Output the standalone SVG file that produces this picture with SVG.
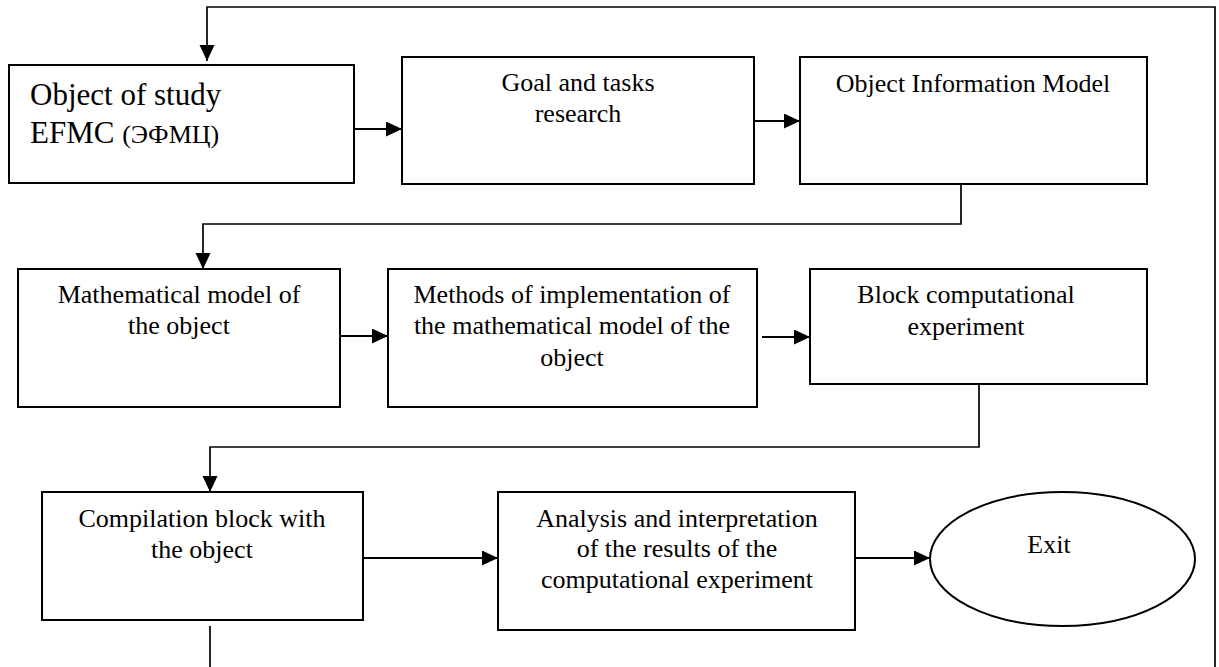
<svg xmlns="http://www.w3.org/2000/svg" width="1219" height="667" viewBox="0 0 1219 667">
<style>
.box{fill:#fff;stroke:#000;stroke-width:2}
.t{font-family:'Liberation Serif','Times New Roman',serif;font-size:26px;fill:#000;text-anchor:middle}
.t1{font-family:'Liberation Serif','Times New Roman',serif;font-size:31px;fill:#000}
.con{fill:none;stroke:#000;stroke-width:2.2}
.loop{fill:none;stroke:#000;stroke-width:1.7}
</style>
<defs>
<marker id="ah" markerUnits="userSpaceOnUse" markerWidth="17" markerHeight="16" refX="16" refY="7.5" orient="auto">
<path d="M0,0 L16,7.5 L0,15 z" fill="#000"/>
</marker>
</defs>
<rect width="1219" height="667" fill="#fff"/>
<g id="connectors">
<path class="loop" d="M1215,667 V7 H207 V61" marker-end="url(#ah)"/>
<path class="loop" d="M210,626 V667"/>
<path class="con" d="M354,129 H402" marker-end="url(#ah)"/>
<path class="con" d="M754,121 H800" marker-end="url(#ah)"/>
<path class="loop" d="M961,184 V224 H203 V269" marker-end="url(#ah)"/>
<path class="con" d="M338,336 H388" marker-end="url(#ah)"/>
<path class="con" d="M762,337 H810" marker-end="url(#ah)"/>
<path class="loop" d="M979,384 V447 H210 V492" marker-end="url(#ah)"/>
<path class="con" d="M363,558 H498" marker-end="url(#ah)"/>
<path class="con" d="M855,558 H930" marker-end="url(#ah)"/>
</g>
<g id="n1">
<rect class="box" x="9" y="65" width="345" height="118"/>
<text class="t1" x="30" y="105">Object of study</text>
<text class="t1" x="30" y="143">EFMC <tspan font-size="26">(ЭФМЦ)</tspan></text>
</g>
<g id="n2">
<rect class="box" x="402" y="57" width="352" height="127"/>
<text class="t" x="578" y="91">Goal and tasks</text>
<text class="t" x="578" y="122">research</text>
</g>
<g id="n3">
<rect class="box" x="800" y="57" width="347" height="127"/>
<text class="t" x="973" y="92">Object Information Model</text>
</g>
<g id="n4">
<rect class="box" x="18" y="269" width="322" height="138"/>
<text class="t" x="179" y="303">Mathematical model of</text>
<text class="t" x="179" y="334">the object</text>
</g>
<g id="n5">
<rect class="box" x="388" y="269" width="369" height="138"/>
<text class="t" x="572" y="303">Methods of implementation of</text>
<text class="t" x="572" y="334">the mathematical model of the</text>
<text class="t" x="572" y="366">object</text>
</g>
<g id="n6">
<rect class="box" x="810" y="269" width="337" height="115"/>
<text class="t" x="966" y="303">Block computational</text>
<text class="t" x="966" y="335">experiment</text>
</g>
<g id="n7">
<rect class="box" x="42" y="492" width="321" height="128"/>
<text class="t" x="202" y="527">Compilation block with</text>
<text class="t" x="202" y="558">the object</text>
</g>
<g id="n8">
<rect class="box" x="498" y="492" width="357" height="138"/>
<text class="t" x="677" y="527">Analysis and interpretation</text>
<text class="t" x="677" y="557">of the results of the</text>
<text class="t" x="677" y="588">computational experiment</text>
</g>
<g id="n9">
<ellipse class="box" cx="1062.5" cy="559" rx="132.5" ry="67"/>
<text class="t" x="1049" y="553">Exit</text>
</g>
</svg>
